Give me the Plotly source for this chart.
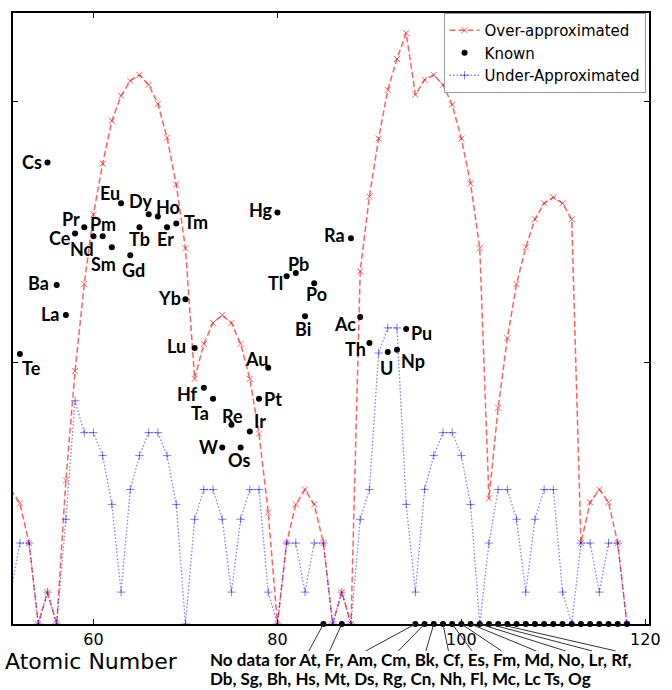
import plotly.graph_objects as go

# ---------------- data ----------------
atomic_numbers = list(range(51, 119))
over_approx = [0.515, 0.462, 0.310, 0.0, 0.122, 0.0, 0.55, 0.969, 1.302, 1.569,
               1.763, 1.927, 2.023, 2.080, 2.103, 2.065, 1.992, 1.863, 1.683, 1.439,
               0.939, 1.073, 1.153, 1.183, 1.153, 1.073, 0.939, 0.729, 0.427, 0.0,
               0.310, 0.458, 0.515, 0.458, 0.310, 0.0, 0.122, 0.0, 1.351, 1.637,
               1.859, 2.046, 2.164, 2.263, 2.027, 2.084, 2.103, 2.065, 1.989, 1.859,
               1.687, 1.439, 0.481, 0.828, 1.095, 1.302, 1.443, 1.550, 1.611, 1.634,
               1.611, 1.550, 0.310, 0.466, 0.515, 0.466, 0.310, 0.0]
under_approx = [0.122, 0.310, 0.310, 0.0, 0.122, 0.0, 0.401, 0.855, 0.733, 0.733,
                0.645, 0.458, 0.122, 0.515, 0.645, 0.733, 0.733, 0.645, 0.458, 0.0,
                0.401, 0.515, 0.515, 0.401, 0.122, 0.401, 0.515, 0.515, 0.122, 0.0,
                0.310, 0.310, 0.122, 0.310, 0.310, 0.0, 0.122, 0.0, 0.401, 0.515,
                1.038, 1.134, 1.134, 0.458, 0.122, 0.515, 0.645, 0.733, 0.733, 0.645,
                0.458, 0.0, 0.310, 0.515, 0.515, 0.401, 0.122, 0.401, 0.515, 0.515,
                0.122, 0.0, 0.310, 0.310, 0.122, 0.310, 0.310, 0.0]

known_symbols = ["Te", "Cs", "Ba", "La", "Ce", "Pr", "Nd", "Pm", "Sm", "Eu", "Gd", "Tb",
                 "Dy", "Ho", "Er", "Tm", "Yb", "Lu", "Hf", "Ta", "W", "Re", "Os", "Ir",
                 "Pt", "Au", "Hg", "Tl", "Pb", "Bi", "Po", "Ra", "Ac", "Th", "U", "Np", "Pu"]
known_z = [52, 55, 56, 57, 58, 59, 60, 61, 62, 63, 64, 65, 66, 67, 68, 69, 70, 71, 72, 73,
           74, 75, 76, 77, 78, 79, 80, 81, 82, 83, 84, 88, 89, 90, 92, 93, 94]
known_values = [1.034, 1.767, 1.298, 1.183, 1.496, 1.519, 1.485, 1.485, 1.443, 1.611,
                1.412, 1.519, 1.569, 1.561, 1.519, 1.534, 1.244, 1.057, 0.905, 0.863,
                0.676, 0.763, 0.676, 0.737, 0.863, 0.981, 1.576, 1.332, 1.344, 1.179,
                1.305, 1.477, 1.176, 1.076, 1.042, 1.050, 1.130]

no_data_z = [85, 87, 95, 96, 97, 98, 99, 100, 101, 102, 103, 104, 105, 106, 107, 108,
             109, 110, 111, 112, 113, 114, 115, 116, 117, 118]
no_data_values = [0.0] * len(no_data_z)

# elements whose names get a leader line (first text row)
leader_symbols = ["At", "Fr", "Am", "Cm", "Bk", "Cf", "Es", "Fm", "Md", "No", "Lr", "Rf"]
leader_z = [85, 87, 95, 96, 97, 98, 99, 100, 101, 102, 103, 104]
second_row_text = "Db, Sg, Bh, Hs, Mt, Ds, Rg, Cn, Nh, Fl, Mc, Lc Ts, Og"

x_ticks = [60, 80, 100, 120]
x_tick_labels = ["60", "80", "100", "120"]

# ---------------- styles / layout ----------------
label_offsets = {  # (xshift, yshift) in px from dot to label centre
    "Te": (12, -14), "Cs": (-15, 1), "Ba": (-18, 2), "La": (-15, 1), "Ce": (-15, -5),
    "Pr": (-13, 8), "Nd": (-11, -13), "Pm": (0, 12), "Sm": (-8, -17), "Eu": (-11, 10),
    "Gd": (3, -15), "Tb": (0, -12), "Dy": (-8, 13), "Ho": (10, 9), "Er": (-2, -12),
    "Tm": (20, 1), "Yb": (-16, 1), "Lu": (-18, 2), "Hf": (-16, -6), "Ta": (-13, -14),
    "W": (-14, 0), "Re": (1, 9), "Os": (-2, -13), "Ir": (10, 11), "Pt": (14, 0),
    "Au": (-12, 9), "Hg": (-16, 2), "Tl": (-11, -7), "Pb": (3, 9), "Bi": (-2, -13),
    "Po": (2, -11), "Ra": (-17, 3), "Ac": (-15, -7), "Th": (-14, -6), "U": (-1, -16),
    "Np": (16, -11), "Pu": (15, -4),
}
leader_end_px = [314, 335, 372, 405, 433, 456, 480, 510, 545, 575, 602, 626]

W, H = 672, 690
ML, MR, MT, MB = 13, 12, 11, 66
XMIN, XMAX = 51.25, 120.4
YMIN, YMAX = 0.0, 2.34
plot_w = W - ML - MR
plot_h = H - MT - MB

red = "rgba(255,0,0,0.62)"
blue = "rgba(0,0,255,0.5)"

fig = go.Figure()
fig.add_trace(go.Scatter(
    x=atomic_numbers, y=over_approx, mode="lines+markers", name="Over-approximated",
    line=dict(color=red, width=1.5, dash="6px,3px"),
    marker=dict(symbol="x-thin", size=6, color=red, line=dict(color=red, width=1)),
))
fig.add_trace(go.Scatter(
    x=known_z + no_data_z, y=known_values + no_data_values, mode="markers", name="Known",
    marker=dict(color="black", size=6), cliponaxis=False,
))
fig.add_trace(go.Scatter(
    x=atomic_numbers, y=under_approx, mode="lines+markers", name="Under-Approximated",
    line=dict(color=blue, width=1.3, dash="1.5px,2px"),
    marker=dict(symbol="cross-thin", size=6, color=blue, line=dict(color=blue, width=1)),
))

label_font = dict(family="Lato", size=18, color="black", weight="bold")
for sym, z, v in zip(known_symbols, known_z, known_values):
    xs, ys = label_offsets[sym]
    fig.add_annotation(x=z, y=v, xref="x", yref="y", text=sym, showarrow=False,
                       xanchor="center", yanchor="middle", xshift=xs, yshift=ys,
                       font=label_font, borderpad=0)

def xpaper(z):
    return (z - XMIN) / (XMAX - XMIN)

def px_to_paper_x(px):
    return (px - ML) / plot_w

def py_to_paper_y(py):
    return (H - MB - py) / plot_h

for z, endpx in zip(leader_z, leader_end_px):
    fig.add_shape(type="line", xref="paper", yref="paper",
                  x0=xpaper(z), y0=0, x1=px_to_paper_x(endpx), y1=py_to_paper_y(651),
                  line=dict(color="#333333", width=1))

bottom_font = dict(family="Lato", size=17, color="black", weight="bold")
fig.add_annotation(xref="paper", yref="paper", x=px_to_paper_x(212), y=py_to_paper_y(660),
                   xanchor="left", yanchor="middle", showarrow=False, font=bottom_font,
                   borderpad=0, text="No data for " + ", ".join(leader_symbols) + ",")
fig.add_annotation(xref="paper", yref="paper", x=px_to_paper_x(212), y=py_to_paper_y(678.5),
                   xanchor="left", yanchor="middle", showarrow=False, font=bottom_font,
                   borderpad=0, text=second_row_text)
fig.add_annotation(xref="paper", yref="paper", x=px_to_paper_x(4), y=py_to_paper_y(662),
                   xanchor="left", yanchor="middle", showarrow=False, borderpad=0,
                   font=dict(family="DejaVu Sans", size=22, color="black"),
                   text="Atomic Number")

fig.update_layout(
    width=W, height=H, margin=dict(l=ML, r=MR, t=MT, b=MB, pad=0),
    paper_bgcolor="white", plot_bgcolor="white",
    showlegend=True,
    legend=dict(x=px_to_paper_x(451), y=py_to_paper_y(11), xanchor="left", yanchor="top",
                bgcolor="white", bordercolor="#999999", borderwidth=1,
                font=dict(family="DejaVu Sans", size=15, color="black"),
                tracegroupgap=0),
)
fig.update_xaxes(range=[XMIN, XMAX], tickvals=x_ticks, ticktext=x_tick_labels,
                 ticks="inside", ticklen=5, tickcolor="black", tickwidth=1,
                 showline=True, linecolor="black", linewidth=2, mirror="ticks",
                 showgrid=False, zeroline=False,
                 tickfont=dict(family="DejaVu Sans", size=16, color="black"))
fig.update_yaxes(range=[YMIN, YMAX], tickvals=[0, 1, 2], showticklabels=False,
                 ticks="inside", ticklen=5, tickcolor="black", tickwidth=1,
                 showline=True, linecolor="black", linewidth=2, mirror="ticks",
                 showgrid=False, zeroline=False)

fig.write_html("out.html")
